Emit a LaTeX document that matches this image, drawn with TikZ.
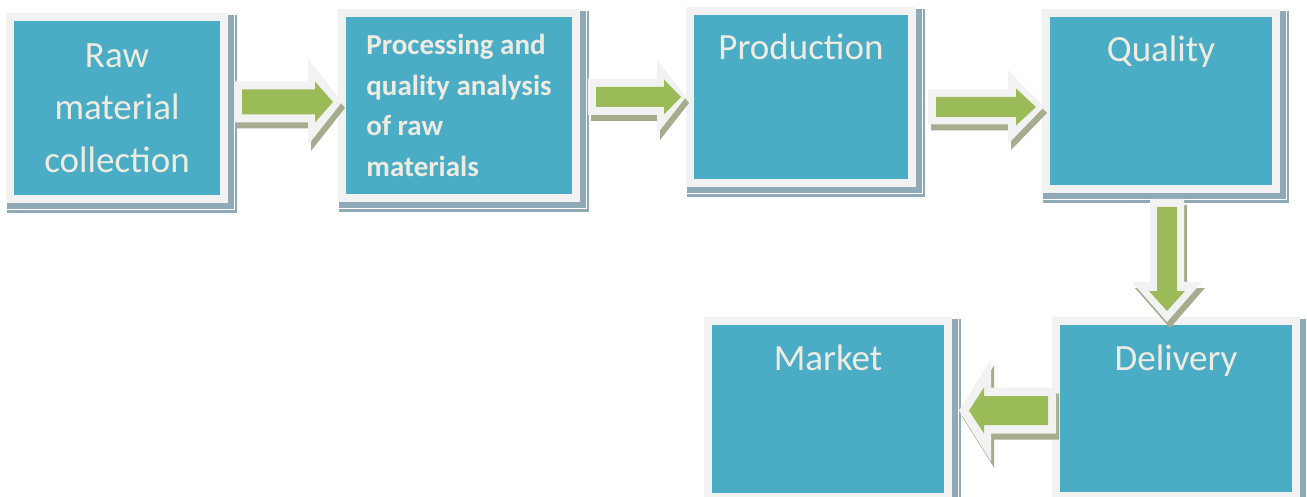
\documentclass[tikz,border=0pt]{standalone}
\usepackage{fontspec}
\setmainfont{Carlito}
\usetikzlibrary{calc,backgrounds}
\definecolor{boxteal}{HTML}{4BACC6}
\definecolor{framegray}{HTML}{F2F2F2}
\definecolor{arrowgreen}{HTML}{9BBB59}
\definecolor{txtcream}{HTML}{EEECE1}
\definecolor{bshadowc}{HTML}{8FAAB6}
\definecolor{ashadowc}{HTML}{A6AD8F}
\tikzset{
  box/.style={draw=framegray, line width=8pt, fill=boxteal, inner sep=0pt,
    text=txtcream, font=\fontsize{37}{52.5}\selectfont},
  topbox/.style={box, text height=49pt},
  ashadow/.style={fill=ashadowc},
  aouter/.style={fill=framegray},
  ainner/.style={fill=arrowgreen},
}
% #1 start, #2 tip (green), #3 shaft half, #4 head half, #5 head length,
% #6 outer shaft half, #7 outer head half, #8 outer head length, #9 outer tip extension
\newcommand\bkarrow[9]{%
  \coordinate (ba-S) at ($(#1)!-8pt!(#2)$);
  \coordinate (ba-T) at ($(#2)!-#9!(#1)$);
  \coordinate (ba-B) at ($(ba-T)!#8!(ba-S)$);
  \coordinate (ba-b) at ($(#2)!#5!(#1)$);
  \def\outerpoly{($(ba-S)!#6!90:(ba-T)$) -- ($(ba-B)!#6!-90:(ba-S)$) -- ($(ba-B)!#7!-90:(ba-S)$) -- (ba-T) -- ($(ba-B)!#7!90:(ba-S)$) -- ($(ba-B)!#6!90:(ba-S)$) -- ($(ba-S)!#6!-90:(ba-T)$) -- cycle}%
  \path[ashadow, transform canvas={shift={(3,6)}}] \outerpoly;
  \path[aouter] \outerpoly;
  \path[ainner] ($(#1)!#3!90:(#2)$) -- ($(ba-b)!#3!-90:(#1)$) -- ($(ba-b)!#4!-90:(#1)$) -- (#2) -- ($(ba-b)!#4!90:(#1)$) -- ($(ba-b)!#3!90:(#1)$) -- ($(#1)!#3!-90:(#2)$) -- cycle;
}
\begin{document}
\begin{tikzpicture}[x=1pt,y=-1pt]
\begin{scope}[on background layer]
  \fill[white] (0,0) rectangle (1307,497);
\end{scope}
\useasboundingbox (0,0) rectangle (1307,497);

\node[box, minimum width=214pt, minimum height=182pt, align=center] (b1) at (117,108) {Raw\\material\\collection};
\node[box, minimum width=234pt, minimum height=185pt, align=left,
  font=\bfseries\fontsize{29}{40.7}\selectfont] (b2) at (459,105.5) {Processing and\\quality analysis\\of raw\\materials};
\node[topbox, minimum width=222pt, text depth=123pt] (b3) at (801,97) {Production};
\node[topbox, minimum width=230pt, text depth=127pt] (b4) at (1161,101) {Quality};
\node[topbox, minimum width=240pt, text depth=126pt] (b5) at (1176,408.5) {Delivery};
\node[topbox, minimum width=240pt, text depth=127pt] (b6) at (828,409) {Market};

\begin{scope}[on background layer]
  \foreach \bx in {b1,b2,b3,b4,b5,b6} {
    \fill[bshadowc] ($(\bx.north west)+(1,2)$) rectangle ($(\bx.south east)+(9,10)$);
    \draw[white, line width=1pt] ($(\bx.north west)+(-1.5,-1)$) rectangle ($(\bx.south east)+(6.5,7)$);
  }
\end{scope}

% connectors (block arrows)
\coordinate (a1t) at ($(b2.west)+(-5,-3.5)$);
\coordinate (a1s) at ($(b1.east |- a1t)+(14,0)$);
\bkarrow{a1s}{a1t}{12.5pt}{20.5pt}{18pt}{20.5pt}{43pt}{34pt}{9pt}

\coordinate (a2t) at ($(b3.west)+(-5,0)$);
\coordinate (a2s) at ($(b2.east |- a2t)+(16,0)$);
\bkarrow{a2s}{a2t}{10pt}{17.5pt}{17pt}{18pt}{37pt}{29pt}{5pt}

\coordinate (a3t) at ($(b4.west)+(-6,6)$);
\coordinate (a3s) at ($(b3.east |- a3t)+(20,0)$);
\bkarrow{a3s}{a3t}{10pt}{18.5pt}{20pt}{17.5pt}{37pt}{36pt}{8pt}

\coordinate (a4t) at ($(b5.north)+(-9,-6)$);
\coordinate (a4s) at ($(a4t |- b4.south)+(0,14)$);
\bkarrow{a4s}{a4t}{10pt}{18pt}{20pt}{17pt}{35pt}{40pt}{11pt}

\coordinate (a5t) at ($(b6.east)+(17,1.5)$);
\coordinate (a5s) at ($(b5.west |- a5t)+(-4,0)$);
\bkarrow{a5s}{a5t}{14.5pt}{23pt}{15pt}{23pt}{51pt}{32pt}{10pt}
\end{tikzpicture}
\end{document}
